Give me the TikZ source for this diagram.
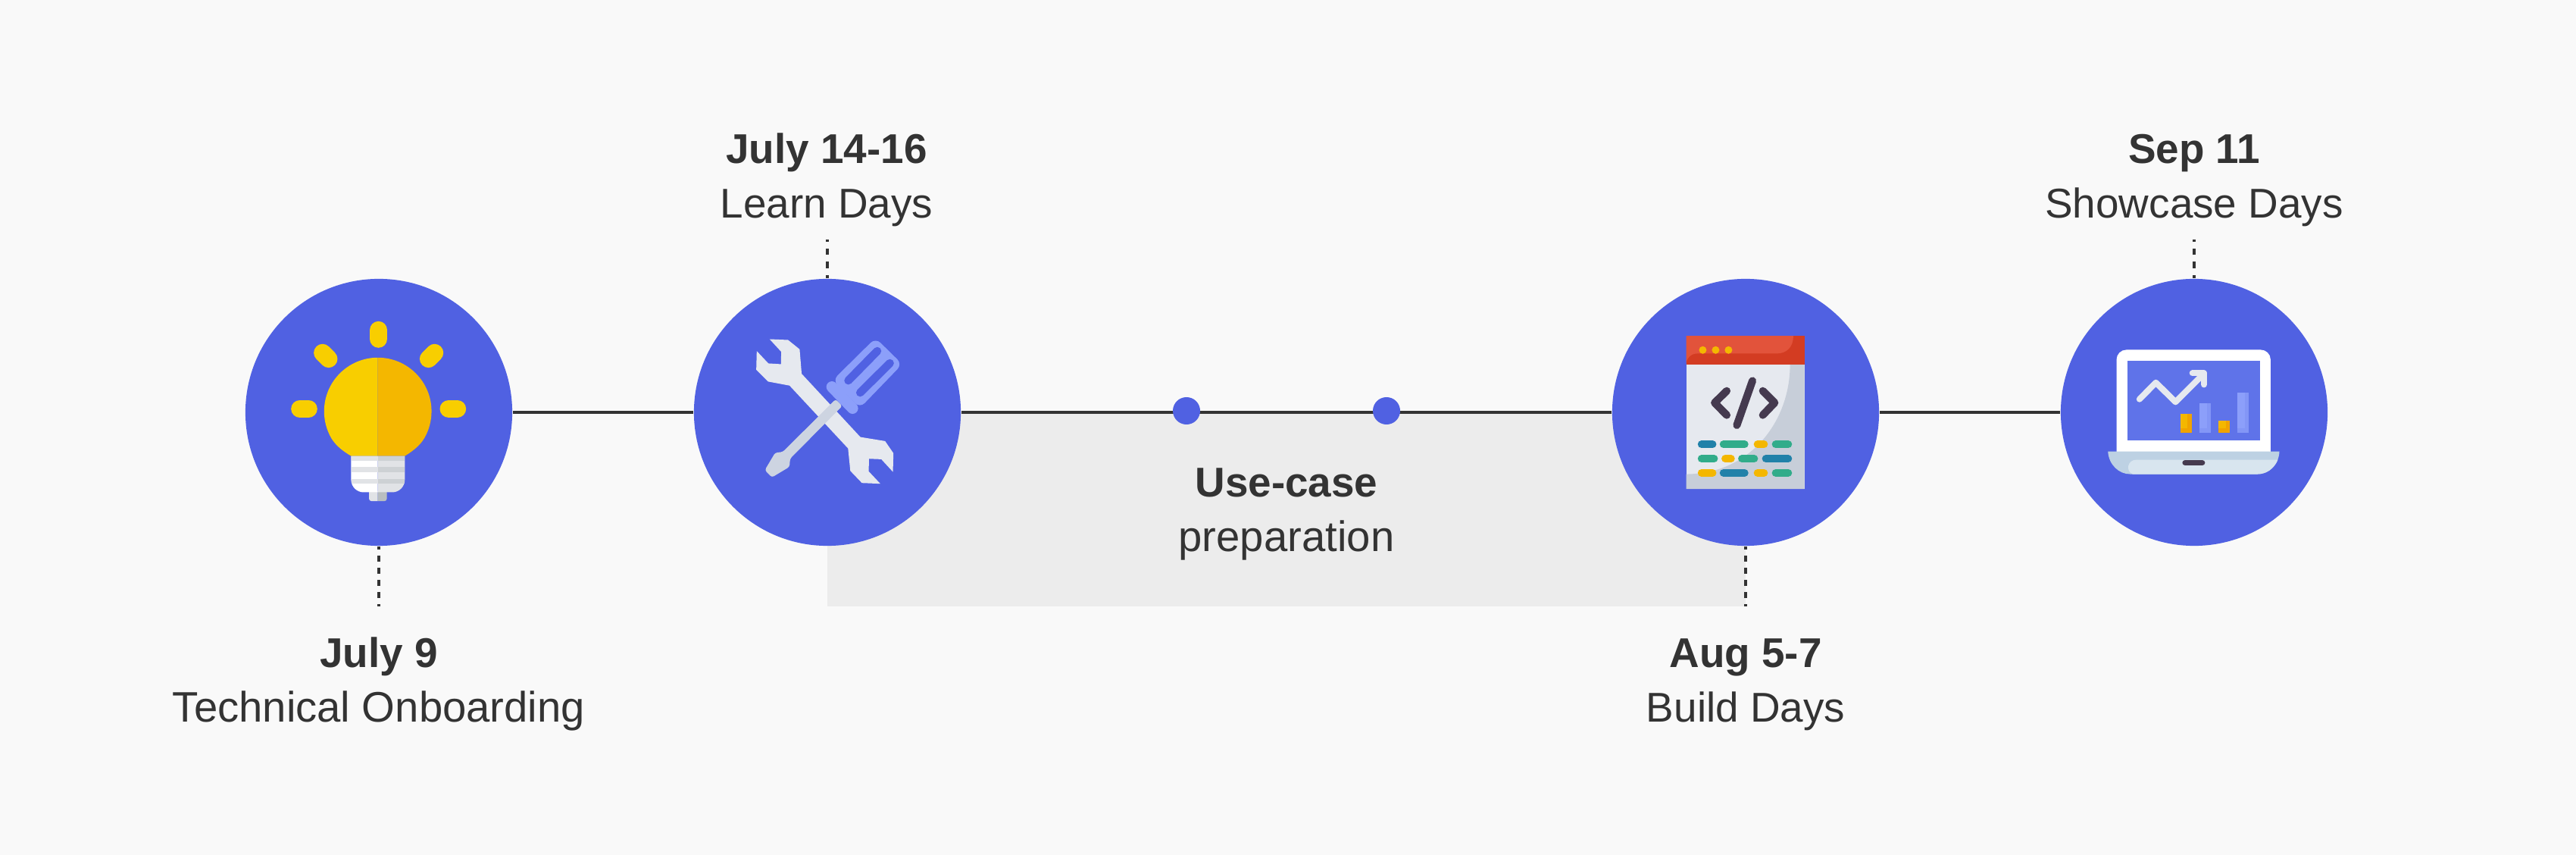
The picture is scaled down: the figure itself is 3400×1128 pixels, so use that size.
\documentclass[tikz,border=0pt]{standalone}
\usepackage{xcolor}
\usepackage{fontspec}
\setmainfont{Liberation Sans}
\usepackage{tikz}

\definecolor{paper}{HTML}{F9F9F9}
\definecolor{band}{HTML}{ECECEC}
\definecolor{ink}{HTML}{333333}
\definecolor{disc}{HTML}{5061E2}
\definecolor{sun}{HTML}{F8CE00}
\definecolor{amber}{HTML}{F4B700}
\definecolor{ember}{HTML}{F0A300}
\definecolor{steel}{HTML}{E6E9EF}
\definecolor{steeldark}{HTML}{CDD4E1}
\definecolor{grip}{HTML}{8C9FFA}
\definecolor{plum}{HTML}{453A4F}
\definecolor{teal}{HTML}{31AC8A}
\definecolor{petrol}{HTML}{2181A9}
\definecolor{barred}{HTML}{D33C22}
\definecolor{barlight}{HTML}{E2533B}
\definecolor{pagedark}{HTML}{C7CED9}
\definecolor{baseblue}{HTML}{BDD1E3}
\definecolor{baselight}{HTML}{D8E5EF}
\definecolor{screen}{HTML}{5F73E9}
\definecolor{capgrey}{HTML}{E1E3E6}
\definecolor{capdark}{HTML}{CDD1D4}
\definecolor{stemdark}{HTML}{B9BEC0}

\begin{document}
\begin{tikzpicture}[x=0.01cm, y=-0.01cm,
    stage/.style={circle, fill=disc, inner sep=0pt, minimum size=3.52cm},
    midpoint/.style={circle, fill=disc, inner sep=0pt, minimum size=0.36cm},
    dateline/.style={anchor=base, inner sep=0pt, text=ink, font=\fontsize{15.6}{18}\selectfont\bfseries},
    nameline/.style={anchor=base, inner sep=0pt, text=ink, font=\fontsize{15.6}{18}\selectfont},
    track/.style={draw=ink, line width=0.04cm},
    tick/.style={draw=ink, line width=0.04cm, dash pattern=on 0.08cm off 0.08cm, dash phase=0.04cm},
    icon/.style={x=0.0033333cm, y=-0.0033333cm},
    ray/.style={draw=sun, line width=0.2333cm, line cap=round},
    pill/.style={line width=0.1cm, line cap=round}]

    % Canvas
    \useasboundingbox (0,0) rectangle (3400,1128);
    \fill[paper] (0,0) rectangle (3400,1128);
    \fill[band] (1092,544) rectangle (2304,800);

    % Stages
    \node[stage] (onboard) at (500,544) {};
    \node[stage] (learn) at (1092,544) {};
    \node[stage] (build) at (2304,544) {};
    \node[stage] (showcase) at (2896,544) {};

    % Free ends of the ticks
    \coordinate (onboardEnd) at (500,800);
    \coordinate (learnEnd) at (1092,316);
    \coordinate (buildEnd) at (2304,800);
    \coordinate (showcaseEnd) at (2896,316);

    % Track and ticks
    \draw[track] (onboard) -- (learn);
    \draw[track] (learn) -- (build);
    \draw[track] (build) -- (showcase);
    \draw[tick] (onboard.south) -- (onboardEnd);
    \draw[tick, dash pattern=on 0.0867cm off 0.0867cm] (learn.north) -- (learnEnd);
    \draw[tick] (build.south) -- (buildEnd);
    \draw[tick, dash pattern=on 0.0867cm off 0.0867cm] (showcase.north) -- (showcaseEnd);

    % Points on the track
    \node[midpoint] (prepStart) at (1566,542) {};
    \node[midpoint] (prepEnd) at (1830,542) {};

    % Labels
    \node[dateline] (onboardDate) at (500,880) {July 9};
    \node[nameline, font=\fontsize{16}{18}\selectfont] (onboardName) at (500,952) {Technical Onboarding};
    \node[dateline] (learnDate) at (1091,216) {July 14-16};
    \node[nameline] (learnName) at (1091,288) {Learn Days};
    \node[dateline] (prepDate) at (1698,656) {Use-case};
    \node[nameline, font=\fontsize{16}{18}\selectfont] (prepName) at (1698,728) {preparation};
    \node[dateline] (buildDate) at (2304,880) {Aug 5-7};
    \node[nameline] (buildName) at (2304,952) {Build Days};
    \node[dateline] (showcaseDate) at (2896,216) {Sep 11};
    \node[nameline] (showcaseName) at (2896,288) {Showcase Days};

    % Light bulb
    \begin{scope}[shift={(300,340)}, icon]
        \draw[ray] (600,287) -- (600,322);
        \draw[ray] (288,599) -- (322,599);
        \draw[ray] (878,599) -- (912,599);
        \draw[ray] (378,377) -- (402,401);
        \draw[ray] (822,377) -- (798,401);
        \fill[sun] (597,396) arc (-90:-210:213) .. controls (430,745) and (460,768) .. (491,786) -- (597,786) -- cycle;
        \fill[amber] (597,396) arc (-90:30:213) .. controls (764,745) and (734,768) .. (704,786) -- (597,786) -- cycle;
        \fill[capgrey] (597,925) -- (562,925) -- (562,955) arc (180:90:10) -- (597,965) -- cycle;
        \fill[stemdark] (597,925) -- (633,925) -- (633,955) arc (0:90:10) -- (597,965) -- cycle;
        \fill[white] (597,786) -- (491,786) -- (491,880) arc (180:90:50) -- (597,930) -- cycle;
        \fill[capgrey] (597,786) -- (704,786) -- (704,880) arc (0:90:50) -- (597,930) -- cycle;
        \foreach \ya/\yb in {786/804, 830/849, 876/894} {
            \fill[capgrey] (492,\ya) rectangle (597,\yb);
            \fill[capdark] (597,\ya) rectangle (703,\yb);
        }
    \end{scope}

    % Wrench and screwdriver
    \begin{scope}[shift={(890,340)}, icon]
        \fill[steel] (378,323) -- (451,326) -- (497,363) -- (505,460) -- (738,711) -- (836,727)
            -- (869,775) -- (867,849) -- (821,799) -- (772,797) -- (771,847) -- (817,896)
            -- (744,893) -- (698,845) -- (689,756) -- (457,507) -- (372,491) -- (325,444)
            -- (327,370) -- (373,419) -- (423,422) -- (424,373) -- cycle;
        \fill[steeldark, rounded corners=0.03cm] (640,561) -- (666,588) -- (459,797) -- (457,829) -- (387,871)
            -- (359,842) -- (400,773) -- (430,770) -- cycle;
        \fill[grip, rounded corners=0.09cm] (798,318) -- (904,422) -- (736,596) -- (628,486) -- cycle;
        \draw[grip, line width=0.1467cm, line cap=round] (625,512) -- (707,597);
        \draw[disc, line width=0.1067cm, line cap=round] (690,487) -- (805,370);
        \draw[disc, line width=0.1067cm, line cap=round] (737,535) -- (855,418);
    \end{scope}

    % Code window
    \begin{scope}[shift={(2110,340)}, icon]
        \fill[steel] (347,424) rectangle (816,917);
        \fill[pagedark] (759,424) -- (816,424) -- (816,917) -- (347,917) -- (347,858)
            .. controls (600,858) and (759,650) .. (759,424) -- cycle;
        \fill[barred] (347,310) rectangle (816,424);
        \fill[barlight] (347,310) -- (772,310) .. controls (772,355) and (745,380) .. (705,380)
            -- (390,380) .. controls (365,380) and (347,400) .. (347,424) -- cycle;
        \foreach \xx in {413,464,515} {
            \fill[amber] (\xx,366) circle (15);
        }
        \draw[plum, pill, line join=round] (508,528) -- (460,575) -- (508,624);
        \draw[plum, pill] (610,488) -- (548,664);
        \draw[plum, pill, line join=round] (651,528) -- (698,575) -- (651,624);
        \foreach \xa/\xb/\yy/\tint in {408/452/740/petrol, 495/579/740/teal, 630/656/740/amber, 702/752/740/teal,
            408/458/797/teal, 502/525/797/amber, 568/617/797/teal, 663/752/797/petrol,
            408/452/853/amber, 495/579/853/petrol, 630/656/853/amber, 702/752/853/teal} {
            \draw[\tint, pill] (\xa,\yy) -- (\xb,\yy);
        }
    \end{scope}

    % Laptop
    \begin{scope}[shift={(2700,340)}, icon]
        \fill[white] (281,770) [rounded corners=0.13cm] -- (281,365) -- (892,365) [sharp corners] -- (892,770) -- cycle;
        \fill[screen] (324,409) rectangle (849,724);
        \fill[baseblue] (247,768) -- (927,768) .. controls (925,820) and (885,858) .. (840,858)
            -- (335,858) .. controls (290,858) and (250,820) .. (247,768) -- cycle;
        \fill[baselight] (360,801) -- (921,801) .. controls (905,838) and (875,858) .. (840,858)
            -- (345,858) .. controls (315,845) and (325,801) .. (360,801) -- cycle;
        \draw[plum, line width=0.0733cm, line cap=round] (553,813) -- (621,813);
        \foreach \xa/\xb/\ya/\yb/\back/\front in {534/579/620/675/ember/amber, 610/654/576/677/grip!85!disc/grip,
            685/729/647/677/ember/amber, 760/804/534/677/grip!85!disc/grip} {
            \fill[\back] (\xa,\ya) rectangle (\xb,694);
            \fill[\front] (\xa,\ya) rectangle (\xa+29,\yb);
        }
        \draw[steel, line width=0.08cm, line cap=round, line join=round] (372,561) -- (437,495) -- (515,572) -- (628,459);
        \draw[steel, line width=0.08cm, line cap=round, line join=round] (582,458) -- (628,458) -- (628,503);
    \end{scope}
\end{tikzpicture}
\end{document}
